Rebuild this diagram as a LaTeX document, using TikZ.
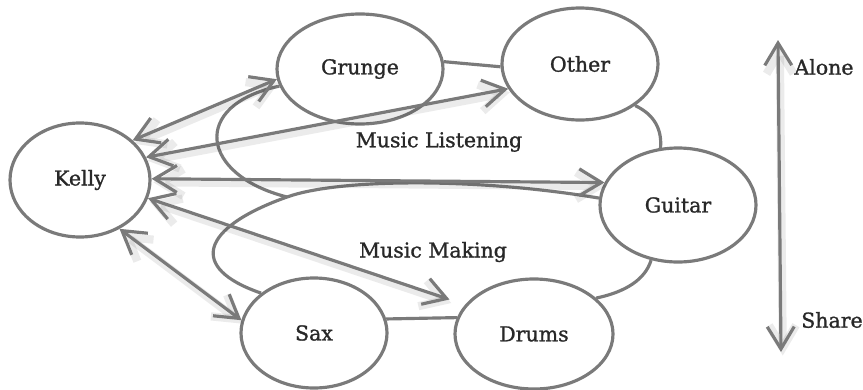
\documentclass[tikz,border=0pt]{standalone}
\usepackage{fontspec}
\setmainfont{DejaVu Serif}
\newfontfamily\diafont{DejaVu Serif}[FakeBold=1.2]
\usetikzlibrary{shapes,arrows.meta,positioning}
\definecolor{linegray}{RGB}{122,122,122}
\definecolor{textgray}{RGB}{40,40,40}

\begin{document}
\begin{tikzpicture}[
    x=0.03cm, y=-0.03cm,
    actor/.style={ellipse, draw=linegray, line width=2.7pt, inner sep=0pt, font=\diafont\fontsize{17.5}{20}\selectfont, text=textgray},
    link/.style={draw=linegray, line width=2.7pt},
    both/.style={link, {Straight Barb[length=19pt,width=23pt]}-{Straight Barb[length=19pt,width=23pt]},
        preaction={draw=black, opacity=0.08, line width=7pt, transform canvas={shift={(1.5pt,-3pt)}}}},
    lbl/.style={font=\diafont\fontsize{17.5}{20}\selectfont, text=textgray}
]
    \useasboundingbox (0,0) rectangle (863,389);

    \node[actor, minimum width=4.2cm, minimum height=3.42cm] (kelly) at (80,180) {Kelly};
    \node[actor, minimum width=4.98cm, minimum height=3.3cm] (grunge) at (360,69) {Grunge};
    \node[actor, minimum width=4.68cm, minimum height=3.36cm] (other) at (580,64) {Other};
    \node[actor, minimum width=4.68cm, minimum height=3.42cm] (guitar) at (678,205) {Guitar};
    \node[actor, minimum width=4.38cm, minimum height=3.3cm] (sax) at (314,333) {Sax};
    \node[actor, minimum width=4.74cm, minimum height=3.3cm] (drums) at (534,334) {Drums};

    \node[lbl] (listening) at (439,142) {Music Listening};
    \node[lbl] (making) at (433,252) {Music Making};

    % the two loops
    \coordinate (meet) at (287,197);
    \draw[link] (guitar.175) .. controls (480,178) and (340,178) .. (meet)
        .. controls (200,228) and (188,268) .. (sax.143);
    \draw[link] (grunge.192) .. controls (190,105) and (200,175) .. (meet);

    % links between the instruments
    \draw[link] (grunge.5) -- (other.182);
    \draw[link] (other.-37) .. controls (655,115) and (662,130) .. (guitar.107);
    \draw[link] (guitar.244) .. controls (645,280) and (625,292) .. (drums.30);
    \draw[link] (sax.11.6) -- (drums.168.5);

    % Kelly's arrows
    \draw[both] (kelly.37) -- (grunge.187);
    \draw[both] (kelly.19) -- (other.199);
    \draw[both] (kelly.1) -- (guitar.163);
    \draw[both, shorten >=14pt] (kelly.-15) -- (drums.157);
    \draw[both] (kelly.-51) -- (sax.170);

    % alone / share scale
    \coordinate (top) at (778,40);
    \coordinate (bottom) at (781,352);
    \draw[both] (bottom) -- (top);
    \node[lbl] (alone) at (824,67) {Alone};
    \node[lbl] (share) at (832,320) {Share};
\end{tikzpicture}
\end{document}
